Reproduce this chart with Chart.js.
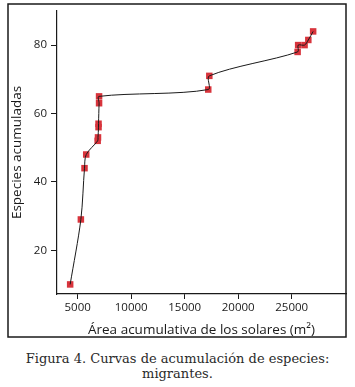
<!DOCTYPE html>
<html lang="es">
<head>
<meta charset="UTF-8">
<title>Curvas de acumulación</title>
<script src="https://cdn.jsdelivr.net/npm/chart.js"></script>
<style>
  body { margin: 0; background: #fff; }
  #wrap { position: relative; width: 355px; height: 387px; }
  #chart { position: absolute; left: 0; top: 0; }
  #caption {
    position: absolute; left: 0; top: 351px; width: 355px;
    text-align: center; font-family: "DejaVu Serif", serif;
    font-size: 13px; line-height: 15px; color: #2a2a2a;
  }
</style>
</head>
<body>
<div id="wrap">
  <canvas id="chart" width="355" height="340"></canvas>
  <div id="caption">Figura 4. Curvas de acumulación de especies:<br>migrantes.</div>
</div>

<script>
// area acumulada (m2) y especies acumuladas
const area = [4300, 5300, 5640, 5800, 6870, 6900, 6950, 6950, 7000, 7000, 17200, 17300, 25550, 25600, 26200, 26550, 27000];
const especies = [10, 29, 44, 48, 52, 53, 56, 57, 63, 65, 67, 71, 78, 80, 80, 81.5, 84];

const xTicks = [5000, 10000, 15000, 20000, 25000];
const yTicks = [20, 40, 60, 80];

const points = area.map((a, i) => ({x: a, y: especies[i]}));

// outer frame around the figure
const frame = {
  id: 'frame',
  afterDraw(chart) {
    const ctx = chart.ctx;
    ctx.save();
    ctx.strokeStyle = '#1a1a1a';
    ctx.lineWidth = 1.5;
    ctx.strokeRect(8, 4, 338, 333);
    ctx.restore();
  }
};

const tickFont = {family: 'Open Sans', size: 11.5};
const titleFont = {family: 'Open Sans', size: 13.5};

new Chart(document.getElementById('chart'), {
  type: 'scatter',
  data: {
    datasets: [
      {
        data: points,
        showLine: true,
        borderColor: '#1a1a1a',
        borderWidth: 1,
        tension: 0.3,
        pointRadius: 0,
        order: 0
      },
      {
        data: points,
        showLine: false,
        pointStyle: 'rect',
        pointRadius: 4.6,
        backgroundColor: '#d8343c',
        borderColor: '#d8343c',
        borderWidth: 0,
        order: 1
      }
    ]
  },
  plugins: [frame],
  options: {
    responsive: false,
    devicePixelRatio: 1,
    animation: false,
    layout: { padding: {top: 4, right: 9, bottom: 3, left: 0} },
    plugins: { legend: {display: false}, tooltip: {enabled: false} },
    scales: {
      x: {
        type: 'linear',
        min: 3070,
        max: 30070,
        afterFit: s => { s.height = 43; },
        afterBuildTicks: s => { s.ticks = xTicks.map(v => ({value: v})); },
        grid: { display: true, drawOnChartArea: false, drawTicks: true, tickLength: 5, color: '#1a1a1a' },
        border: { display: true, color: '#1a1a1a', width: 1.2 },
        ticks: { font: tickFont, color: '#1a1a1a', padding: 2, maxRotation: 0, callback: v => String(v) },
        title: { display: true, text: 'Área acumulativa de los solares (m²)', font: titleFont, color: '#1a1a1a', padding: {top: 0, bottom: -1} }
      },
      y: {
        type: 'linear',
        min: 7.2,
        max: 90,
        afterFit: s => { s.width = 57; },
        afterBuildTicks: s => { s.ticks = yTicks.map(v => ({value: v})); },
        grid: { display: true, drawOnChartArea: false, drawTicks: true, tickLength: 6, color: '#1a1a1a' },
        border: { display: true, color: '#1a1a1a', width: 1.2 },
        ticks: { font: tickFont, color: '#1a1a1a', padding: 4, callback: v => String(v) },
        title: { display: true, text: 'Especies acumuladas', font: titleFont, color: '#1a1a1a', padding: {top: 9, bottom: 0} }
      }
    }
  }
});
</script>
</body>
</html>
